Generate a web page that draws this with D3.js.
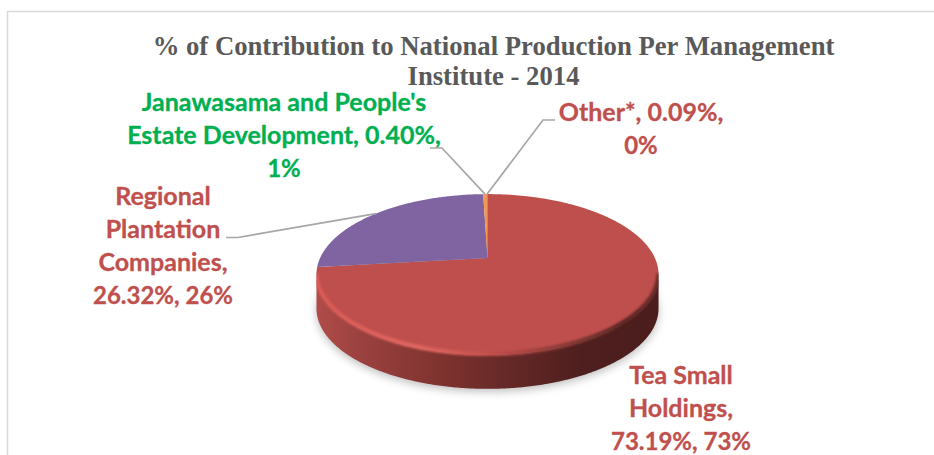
<!DOCTYPE html>
<html>
<head>
<meta charset="utf-8">
<script src="https://cdn.jsdelivr.net/npm/d3@7/dist/d3.min.js"></script>
<style>
  html, body { margin: 0; padding: 0; background: #fff; }
  svg { display: block; }
  .title { font-family: "Liberation Serif", serif; font-weight: 700; font-size: 26.7px; fill: #595959; text-anchor: middle; }
  .label { font-family: Lato, "Open Sans", sans-serif; font-weight: 700; font-size: 25px; text-anchor: middle; stroke-width: 0.3px; }
  .label.numeric { font-size: 24px; }
</style>
</head>
<body>
<svg id="chart" width="934" height="455"></svg>
<script>
// Share of national tea production by management institute, 2014
const categories = ["Tea Small Holdings", "Regional Plantation Companies", "Janawasama and People's Estate Development", "Other*"];
const shares = [73.19, 26.32, 0.40, 0.09];
const roundedShares = ["73%", "26%", "1%", "0%"];
const sliceColors = ["#be4f4c", "#8064a2", "#f79646", "#c0504d"];
const labelColors = ["#c0504d", "#c0504d", "#00b050", "#c0504d"];
const titleLines = ["% of Contribution to National Production Per Management", "Institute - 2014"];

const svg = d3.select("#chart");
const defs = svg.append("defs");

// Pie seen in perspective: a unit circle is projected so the near edge looks larger
const cx = 487.5, apexY = 258, radiusX = 167.4, radiusY = 77, tilt = 0.205, depth = 34;
const project = angle => {
  const ux = Math.sin(angle), uy = -Math.cos(angle), w = 1 - tilt * uy;
  return [cx + radiusX * ux / w, apexY + radiusY * uy / w];
};
const line = d3.line();
const arcPoints = (a0, a1) => {
  const n = Math.max(2, Math.ceil(Math.abs(a1 - a0) / 0.01));
  return d3.range(n + 1).map(i => project(a0 + (a1 - a0) * i / n));
};

const slices = d3.pie().sort(null).value(d => d)(shares);

// Horizontal shading of the side wall
const sideGrad = defs.append("linearGradient").attr("id", "side")
  .attr("gradientUnits", "userSpaceOnUse").attr("x1", 317).attr("x2", 658).attr("y1", 0).attr("y2", 0);
[[0, "#b04c49"], [0.12, "#9c4240"], [0.35, "#80332f"], [0.55, "#662927"], [0.78, "#4e1f1e"], [1, "#4b1d1c"]]
  .forEach(([o, c]) => sideGrad.append("stop").attr("offset", o).attr("stop-color", c));

// Bevel along the front rim: bright on the left, fading to the shaded right
const rimGrad = defs.append("linearGradient").attr("id", "rim")
  .attr("gradientUnits", "userSpaceOnUse").attr("x1", 317).attr("x2", 658).attr("y1", 0).attr("y2", 0);
[[0, "#d95b56"], [0.3, "#e0665f"], [0.5, "#c4504c"], [0.72, "#8a3a38"], [0.9, "#5a2523"], [1, "#6a2c2a"]]
  .forEach(([o, c]) => rimGrad.append("stop").attr("offset", o).attr("stop-color", c));

defs.append("filter").attr("id", "soft").attr("x", "-10%").attr("y", "-20%").attr("width", "120%").attr("height", "140%")
  .append("feGaussianBlur").attr("stdDeviation", 4);
defs.append("filter").attr("id", "softRim").attr("x", "-5%").attr("y", "-10%").attr("width", "110%").attr("height", "120%")
  .append("feGaussianBlur").attr("stdDeviation", 1.1);

// Chart frame, cut off by the page on the right and at the bottom
svg.append("path").attr("d", "M7.5 455V11.5H934").attr("fill", "none").attr("stroke", "#d9d9d9").attr("stroke-width", 1.5);

// Title
svg.selectAll(".title").data(titleLines).join("text").attr("class", "title")
  .attr("x", 493.5).attr("y", (d, i) => 55 + i * 30).text(d => d);

// Soft shadow beneath the disc
const tau = 2 * Math.PI;
const fullRim = arcPoints(0, tau);
svg.append("path").attr("d", line(fullRim) + "Z").attr("transform", `translate(0,${depth + 3})`)
  .attr("fill", "#8a8a8a").attr("opacity", 0.55).attr("filter", "url(#soft)");

// Side wall: front half of the rim, swept down by the depth
const frontStart = Math.acos(-tilt), frontEnd = tau - frontStart;
const front = arcPoints(frontStart, frontEnd);
const lowered = front.map(([x, y]) => [x, y + depth]).reverse();
svg.append("path").attr("d", line(front.concat(lowered)) + "Z").attr("fill", "url(#side)");

// Top face slices
svg.selectAll(".slice").data(slices).join("path").attr("class", "slice")
  .attr("d", d => line([[cx, apexY], ...arcPoints(d.startAngle, d.endAngle)]) + "Z")
  .attr("fill", (d, i) => sliceColors[i]);

// Front rim bevel, kept inside the disc and wall silhouette
defs.append("clipPath").attr("id", "discClip").append("path")
  .attr("d", line(fullRim) + "Z " + line(front.concat(lowered)) + "Z");
svg.append("g").attr("clip-path", "url(#discClip)")
  .append("path").attr("d", line(front.map(([x, y]) => [x, y - 1])))
  .attr("fill", "none").attr("stroke", "url(#rim)")
  .attr("stroke-width", 4.5).attr("filter", "url(#softRim)");

// Leader lines: from the slice edge to an elbow beside its label
const leaderRoutes = new Map([
  [1, [[238, 237.5], [226, 237.5]]],
  [2, [[442, 148], [430, 148]]],
  [3, [[543, 120], [555, 120]]]
]);
leaderRoutes.forEach((route, i) => {
  const start = project((slices[i].startAngle + slices[i].endAngle) / 2);
  svg.append("path").attr("d", line([start, ...route])).attr("fill", "none")
    .attr("stroke", "#a6a6a6").attr("stroke-width", 1.7);
});

// Slice labels: name, exact share and rounded share, wrapped as in the chart
const pct = shares.map(v => v.toFixed(2) + "%");
const labelLines = [
  ["Tea Small", "Holdings,", `${pct[0]}, ${roundedShares[0]}`],
  ["Regional", "Plantation", "Companies,", `${pct[1]}, ${roundedShares[1]}`],
  ["Janawasama and People's", `Estate Development, ${pct[2]},`, roundedShares[2]],
  [`Other*, ${pct[3]},`, roundedShares[3]]
];
const labelAnchors = [[681, 384], [163, 205], [284, 111], [641, 121]];
labelLines.forEach((lines, i) => {
  svg.append("g").selectAll("text").data(lines).join("text")
    .attr("class", d => /^\d/.test(d) ? "label numeric" : "label")
    .attr("x", labelAnchors[i][0]).attr("y", (d, j) => labelAnchors[i][1] + j * 33)
    .attr("fill", labelColors[i]).attr("stroke", labelColors[i]).text(d => d);
});
</script>
</body>
</html>
